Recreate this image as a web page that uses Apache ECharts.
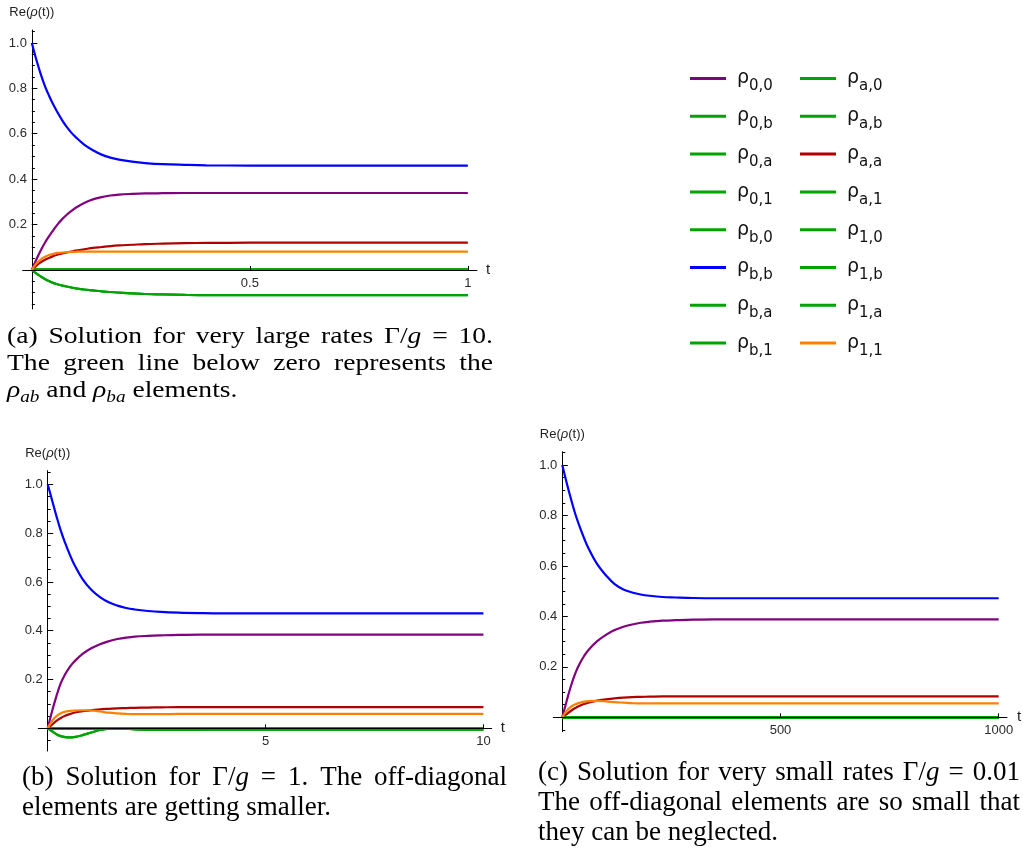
<!DOCTYPE html>
<html>
<head>
<meta charset="utf-8">
<script src="https://cdn.jsdelivr.net/npm/echarts@6/dist/echarts.min.js"></script>
<style>
  html, body { margin: 0; padding: 0; background: #fff; }
  #chart { width: 1023px; height: 849px; }
</style>
</head>
<body>
<div id="chart"></div>
<script>
// ---------- density-matrix elements Re(ρ(t)) ----------
// (a) Γ/g = 10
const tA = [0, 0.01, 0.02, 0.03, 0.04, 0.05, 0.06, 0.07, 0.08, 0.09, 0.10, 0.12, 0.14, 0.16, 0.18, 0.20, 0.23, 0.26, 0.30, 0.35, 0.40, 0.50, 0.60, 0.70, 0.80, 0.90, 1.00];
const rho00A = [0, 0.045, 0.085, 0.12, 0.15, 0.178, 0.203, 0.225, 0.243, 0.259, 0.273, 0.295, 0.311, 0.321, 0.328, 0.332, 0.335, 0.337, 0.338, 0.339, 0.339, 0.339, 0.339, 0.339, 0.339, 0.339, 0.339];
const rhobbA = [1.0, 0.928, 0.865, 0.81, 0.765, 0.725, 0.69, 0.658, 0.63, 0.606, 0.586, 0.552, 0.527, 0.508, 0.495, 0.486, 0.477, 0.471, 0.466, 0.463, 0.461, 0.46, 0.46, 0.46, 0.46, 0.46, 0.46];
const rhoaaA = [0, 0.018, 0.033, 0.045, 0.054, 0.062, 0.068, 0.073, 0.077, 0.081, 0.085, 0.091, 0.097, 0.101, 0.105, 0.108, 0.111, 0.114, 0.116, 0.118, 0.119, 0.120, 0.120, 0.120, 0.120, 0.120, 0.120];
const rho11A = [0, 0.028, 0.046, 0.058, 0.066, 0.071, 0.075, 0.077, 0.078, 0.079, 0.080, 0.081, 0.081, 0.081, 0.081, 0.081, 0.081, 0.081, 0.081, 0.081, 0.081, 0.081, 0.081, 0.081, 0.081, 0.081, 0.081];
const rhoabA = [0, -0.015, -0.028, -0.040, -0.050, -0.058, -0.064, -0.069, -0.073, -0.077, -0.081, -0.086, -0.090, -0.094, -0.097, -0.100, -0.103, -0.106, -0.108, -0.110, -0.111, -0.111, -0.111, -0.111, -0.111, -0.111, -0.111];
const offDiagA = [0, 0, 0, 0, 0, 0, 0, 0, 0, 0, 0, 0, 0, 0, 0, 0, 0, 0, 0, 0, 0, 0, 0, 0, 0, 0, 0];

// (b) Γ/g = 1
const tB = [0, 0.1, 0.2, 0.3, 0.4, 0.5, 0.6, 0.8, 1.0, 1.2, 1.4, 1.6, 1.8, 2.0, 2.3, 2.6, 3.0, 3.5, 4, 5, 6, 7, 8, 9, 10];
const rho00B = [0, 0.07, 0.132, 0.185, 0.222, 0.25, 0.272, 0.305, 0.328, 0.345, 0.357, 0.366, 0.372, 0.376, 0.379, 0.381, 0.383, 0.384, 0.384, 0.384, 0.384, 0.384, 0.384, 0.384, 0.384];
const rhobbB = [1.0, 0.935, 0.87, 0.81, 0.76, 0.715, 0.675, 0.612, 0.568, 0.538, 0.517, 0.503, 0.493, 0.487, 0.481, 0.477, 0.474, 0.472, 0.471, 0.471, 0.471, 0.471, 0.471, 0.471, 0.471];
const rhoaaB = [0, 0.015, 0.030, 0.042, 0.051, 0.058, 0.064, 0.070, 0.074, 0.078, 0.080, 0.082, 0.083, 0.084, 0.085, 0.086, 0.087, 0.087, 0.087, 0.087, 0.087, 0.087, 0.087, 0.087, 0.087];
const rho11B = [0, 0.030, 0.050, 0.062, 0.068, 0.071, 0.073, 0.074, 0.073, 0.069, 0.064, 0.061, 0.059, 0.058, 0.058, 0.058, 0.059, 0.059, 0.059, 0.059, 0.059, 0.059, 0.059, 0.059, 0.059];
const rhoabB = [0, -0.012, -0.024, -0.032, -0.036, -0.037, -0.036, -0.028, -0.017, -0.007, -0.001, 0.0, -0.002, -0.004, -0.006, -0.007, -0.007, -0.006, -0.005, -0.005, -0.005, -0.005, -0.005, -0.005, -0.005];
const offDiagB = [0, 0, 0, 0, 0, 0, 0, 0, 0, 0, 0, 0, 0, 0, 0, 0, 0, 0, 0, 0, 0, 0, 0, 0, 0];

// (c) Γ/g = 0.01
const tC = [0, 10, 20, 30, 40, 50, 60, 80, 100, 120, 140, 160, 180, 200, 230, 260, 300, 350, 400, 500, 600, 700, 800, 900, 1000];
const rho00C = [0, 0.065, 0.125, 0.175, 0.213, 0.243, 0.267, 0.302, 0.327, 0.346, 0.359, 0.368, 0.375, 0.379, 0.383, 0.385, 0.387, 0.388, 0.388, 0.388, 0.388, 0.388, 0.388, 0.388, 0.388];
const rhobbC = [1.0, 0.93, 0.865, 0.805, 0.755, 0.71, 0.67, 0.607, 0.563, 0.528, 0.507, 0.495, 0.487, 0.482, 0.477, 0.475, 0.473, 0.472, 0.472, 0.472, 0.472, 0.472, 0.472, 0.472, 0.472];
const rhoaaC = [0, 0.013, 0.026, 0.037, 0.046, 0.053, 0.058, 0.066, 0.071, 0.075, 0.078, 0.080, 0.081, 0.082, 0.083, 0.083, 0.083, 0.083, 0.083, 0.083, 0.083, 0.083, 0.083, 0.083, 0.083];
const rho11C = [0, 0.025, 0.042, 0.052, 0.058, 0.062, 0.064, 0.065, 0.063, 0.060, 0.058, 0.056, 0.055, 0.055, 0.055, 0.055, 0.055, 0.055, 0.055, 0.055, 0.055, 0.055, 0.055, 0.055, 0.055];
const offDiagC = [0, 0, 0, 0, 0, 0, 0, 0, 0, 0, 0, 0, 0, 0, 0, 0, 0, 0, 0, 0, 0, 0, 0, 0, 0];

// tick labels
const xTicksA = [0.5, 1];
const xTicksB = [5, 10];
const xTicksC = [500, 1000];
const yTicksMajor = [0.2, 0.4, 0.6, 0.8, 1.0];

// legend entries (plot order: rows of the matrix)
const legendLeft = ['ρ0,0', 'ρ0,b', 'ρ0,a', 'ρ0,1', 'ρb,0', 'ρb,b', 'ρb,a', 'ρb,1'];
const legendRight = ['ρa,0', 'ρa,b', 'ρa,a', 'ρa,1', 'ρ1,0', 'ρ1,b', 'ρ1,a', 'ρ1,1'];

// ---------- styling ----------
const COLORS = {
  'ρ0,0': '#800080',
  'ρb,b': '#0000ff',
  'ρa,a': '#b00000',
  'ρ1,1': '#ff8000'
};
const GREEN = '#00a300';
const SANS = 'Liberation Sans';
const SERIF = 'Liberation Serif';

// frame of each panel: full extent of the axes (x axis pokes a little left of t = 0)
const panels = [
  {
    t: tA, rest: offDiagA,
    curves: { 'ρ0,0': rho00A, 'ρb,b': rhobbA, 'ρa,a': rhoaaA, 'ρ1,1': rho11A, 'ρa,b': rhoabA, 'ρb,a': rhoabA },
    frame: { left: 22.7, top: 30, width: 454.3, height: 279 },
    x: [-0.021, 1.021], y: [-0.172, 1.057], xTicks: xTicksA
  },
  {
    t: tB, rest: offDiagB,
    curves: { 'ρ0,0': rho00B, 'ρb,b': rhobbB, 'ρa,a': rhoaaB, 'ρ1,1': rho11B, 'ρa,b': rhoabB, 'ρb,a': rhoabB },
    frame: { left: 38.3, top: 470.7, width: 453.4, height: 280.3 },
    x: [-0.216, 10.19], y: [-0.093, 1.056], xTicks: xTicksB
  },
  {
    t: tC, rest: offDiagC,
    curves: { 'ρ0,0': rho00C, 'ρb,b': rhobbC, 'ρa,a': rhoaaC, 'ρ1,1': rho11C },
    frame: { left: 553.3, top: 451.7, width: 453.7, height: 280 },
    x: [-20.6, 1019], y: [-0.057, 1.053], xTicks: xTicksC
  }
];

function minorTicks(lo, hi) {
  const out = [];
  for (let k = Math.ceil(lo / 0.05); k * 0.05 <= hi + 1e-9; k++) {
    const v = Math.round(k * 5) / 100;
    if (v !== 0) out.push(v);
  }
  return out;
}

const grids = [], xAxes = [], yAxes = [], series = [];
const axisColor = '#000';
const labelStyle = { fontFamily: SANS, fontSize: 13, color: '#2a2a2a' };

panels.forEach((p, i) => {
  const f = p.frame;
  const zeroX = f.left + (0 - p.x[0]) / (p.x[1] - p.x[0]) * f.width;
  const zeroY = f.top + p.y[1] / (p.y[1] - p.y[0]) * f.height;
  const dataRect = { left: zeroX, top: f.top, width: f.left + f.width - zeroX, height: f.height };
  const base = 3 * i;

  // grid 0: data + vertical axis with labelled ticks
  grids.push(Object.assign({}, dataRect));
  xAxes.push({ type: 'value', gridIndex: base, min: 0, max: p.x[1], show: false });
  yAxes.push({
    type: 'value', gridIndex: base, min: p.y[0], max: p.y[1], position: 'left',
    axisLine: { show: true, onZero: false, lineStyle: { color: axisColor, width: 1 } },
    axisTick: { show: true, inside: true, length: 5.5, customValues: yTicksMajor, lineStyle: { color: axisColor } },
    axisLabel: Object.assign({ customValues: yTicksMajor, margin: 5, formatter: v => v.toFixed(1) }, labelStyle),
    splitLine: { show: false },
    name: '{n|Re(}{i|ρ}{n|(t))}', nameLocation: 'end', nameGap: 11,
    nameTextStyle: {
      rich: {
        n: { fontFamily: SANS, fontSize: 13, color: '#222' },
        i: { fontFamily: SANS, fontSize: 13, fontStyle: 'italic', color: '#222' }
      }
    }
  });

  // grid 1: same box, minor ticks on the vertical axis
  grids.push(Object.assign({}, dataRect));
  xAxes.push({ type: 'value', gridIndex: base + 1, min: 0, max: p.x[1], show: false });
  yAxes.push({
    type: 'value', gridIndex: base + 1, min: p.y[0], max: p.y[1], position: 'left',
    axisLine: { show: false, onZero: false },
    axisTick: { show: true, inside: true, length: 3, customValues: minorTicks(p.y[0], p.y[1]), lineStyle: { color: axisColor } },
    axisLabel: { show: false },
    splitLine: { show: false }
  });

  // grid 2: box whose bottom edge is the line Re(ρ) = 0, carrying the t axis
  grids.push({ left: f.left, top: f.top, width: f.width, height: zeroY - f.top });
  xAxes.push({
    type: 'value', gridIndex: base + 2, min: p.x[0], max: p.x[1], position: 'bottom', z: 5,
    axisLine: { show: true, onZero: false, lineStyle: { color: axisColor, width: 1 } },
    axisTick: { show: true, inside: true, length: 4, customValues: p.xTicks, lineStyle: { color: axisColor } },
    axisLabel: Object.assign({ customValues: p.xTicks, margin: 7, formatter: v => String(v) }, labelStyle),
    splitLine: { show: false },
    name: 't', nameLocation: 'end', nameGap: 9,
    nameTextStyle: { fontFamily: SANS, fontSize: 15, color: '#222' }
  });
  yAxes.push({ type: 'value', gridIndex: base + 2, min: 0, max: 1, show: false });

  legendLeft.concat(legendRight).forEach(name => {
    const vals = p.curves[name] || p.rest;
    const color = COLORS[name] || GREEN;
    series.push({
      type: 'line', name, xAxisIndex: base, yAxisIndex: base,
      data: p.t.map((x, k) => [x, vals[k]]),
      showSymbol: false, smooth: 0.4, silent: true,
      color, itemStyle: { color },
      lineStyle: { color, width: 2.2 },
      emphasis: { disabled: true }
    });
  });
});

function legendFor(names, left) {
  return {
    data: names, left, top: 64, orient: 'vertical', selectedMode: false,
    icon: 'rect', itemWidth: 36, itemHeight: 3, itemGap: 12.8,
    formatter: n => '{r|ρ}{s|' + n.slice(1) + '}',
    textStyle: {
      padding: [0, 0, 0, 6],
      rich: {
        r: { fontFamily: 'DejaVu Sans', fontSize: 19, lineHeight: 31, color: '#111' },
        s: { fontFamily: 'DejaVu Sans', fontSize: 15, lineHeight: 31, verticalAlign: 'bottom', color: '#111' }
      }
    }
  };
}

// ---------- captions (justified lines) ----------
const captions = [
  { x0: 7, x1: 493, size: 23, scaleX: 1.2, lines: [
    { y: 337, text: '(a) Solution for very large rates Γ/*g* = 10.', justify: true },
    { y: 364, text: 'The green line below zero represents the', justify: true },
    { y: 391, text: '*ρ*_{ab} and *ρ*_{ba} elements.', justify: false }
  ]},
  { x0: 22, x1: 507, size: 27, scaleX: 1.0, lines: [
    { y: 778, text: '(b) Solution for Γ/*g* = 1. The off-diagonal', justify: true },
    { y: 808, text: 'elements are getting smaller.', justify: false }
  ]},
  { x0: 538, x1: 1020, size: 27, scaleX: 1.0, lines: [
    { y: 773, text: '(c) Solution for very small rates Γ/*g* = 0.01', justify: true },
    { y: 803, text: 'The off-diagonal elements are so small that', justify: true },
    { y: 833, text: 'they can be neglected.', justify: false }
  ]}
];

const measureCtx = document.createElement('canvas').getContext('2d');
function fontOf(kind, size) {
  const sz = kind === 's' ? Math.round(size * 0.7) : size;
  return (kind === 'n' ? '' : 'italic ') + sz + 'px "' + SERIF + '"';
}
function parseWord(w) {
  const frags = [];
  const re = /\*([^*]+)\*|_\{([^}]+)\}|([^*_]+)/g;
  let m;
  while ((m = re.exec(w)) !== null) {
    if (m[1] !== undefined) frags.push({ k: 'i', t: m[1] });
    else if (m[2] !== undefined) frags.push({ k: 's', t: m[2] });
    else frags.push({ k: 'n', t: m[3] });
  }
  return frags;
}
function richFor(size) {
  const L = Math.round(size * 1.3);
  return {
    n: { fontFamily: SERIF, fontSize: size, lineHeight: L, fill: '#000' },
    i: { fontFamily: SERIF, fontSize: size, fontStyle: 'italic', lineHeight: L, fill: '#000' },
    s: { fontFamily: SERIF, fontSize: Math.round(size * 0.7), fontStyle: 'italic', lineHeight: L, verticalAlign: 'bottom', fill: '#000' }
  };
}

const graphics = [];
captions.forEach(c => {
  const rich = richFor(c.size);
  measureCtx.font = fontOf('n', c.size);
  const spaceW = measureCtx.measureText(' ').width * c.scaleX;
  c.lines.forEach(line => {
    const words = line.text.split(' ').map(parseWord);
    const widths = words.map(fr => fr.reduce((acc, f) => {
      measureCtx.font = fontOf(f.k, c.size);
      return acc + measureCtx.measureText(f.t).width;
    }, 0) * c.scaleX);
    const total = widths.reduce((a, b) => a + b, 0);
    const gap = line.justify && words.length > 1 ? (c.x1 - c.x0 - total) / (words.length - 1) : spaceW;
    let x = c.x0;
    words.forEach((fr, k) => {
      graphics.push({
        type: 'text', x, y: line.y, scaleX: c.scaleX, silent: true,
        style: {
          text: fr.map(f => '{' + f.k + '|' + f.t + '}').join(''),
          rich, fontFamily: SERIF, fontSize: c.size,
          align: 'left', verticalAlign: 'middle', fill: '#000'
        }
      });
      x += widths[k] + gap;
    });
  });
});

const chart = echarts.init(document.getElementById('chart'), null, { renderer: 'canvas' });
chart.setOption({
  animation: false,
  backgroundColor: '#fff',
  grid: grids,
  xAxis: xAxes,
  yAxis: yAxes,
  legend: [legendFor(legendLeft, 685), legendFor(legendRight, 795)],
  series,
  graphic: graphics
});
</script>
</body>
</html>
